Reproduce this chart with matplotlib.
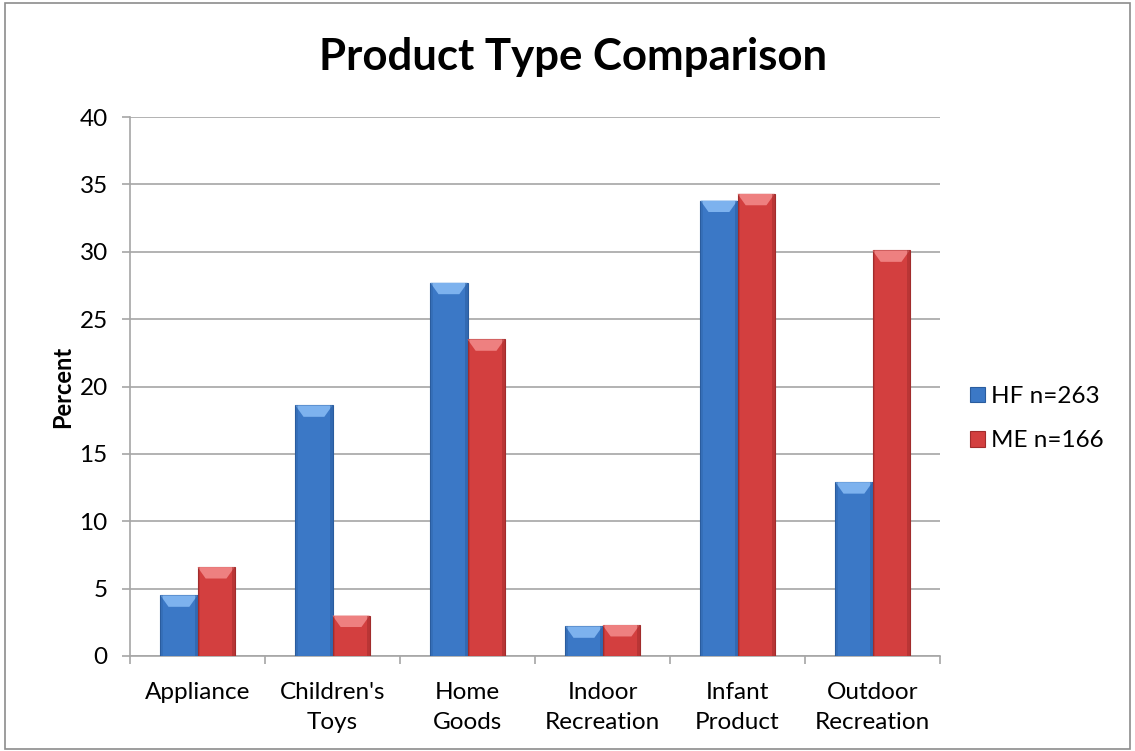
import numpy as np
import matplotlib
matplotlib.use("Agg")
from matplotlib import pyplot as plt
from matplotlib.patches import Polygon, Rectangle

categories = ["Appliance", "Children's\nToys", "Home\nGoods", "Indoor\nRecreation",
              "Infant\nProduct", "Outdoor\nRecreation"]
hf_values = [4.5, 18.6, 27.7, 2.2, 33.8, 12.9]
me_values = [6.6, 3.0, 23.5, 2.3, 34.3, 30.1]
series_labels = ["HF n=263", "ME n=166"]

plt.rcParams["font.family"] = ["Lato", "DejaVu Sans"]

fig = plt.figure(figsize=(11.35, 7.51), dpi=100)
ax = fig.add_axes([130 / 1135, 1 - 656 / 751, 810 / 1135, 539 / 751])

# outer chart border
fig.patches.append(Rectangle((0.004, 0.003), 0.992, 0.993, transform=fig.transFigure,
                             fill=False, edgecolor="#8c8c8c", linewidth=1.2))

x = np.arange(len(categories))
w = 0.275
colors = [("#3b78c6", "#7db2ee", "#2a5c9e"), ("#d33f3f", "#ee8080", "#a12c2c")]

for k, vals in enumerate([hf_values, me_values]):
    base, light, dark = colors[k]
    pos = x - w / 2 if k == 0 else x + w / 2
    bars = ax.bar(pos, vals, width=w, color=base, edgecolor=dark, linewidth=0.8,
                  label=series_labels[k], zorder=3)
    for b in bars:
        x0, y1 = b.get_x(), b.get_height()
        x1 = x0 + b.get_width()
        d = min(0.85, y1 / 2)
        inset = b.get_width() * 0.22
        ax.add_patch(Polygon([(x0, y1), (x1, y1), (x1 - inset, y1 - d), (x0 + inset, y1 - d)],
                             closed=True, facecolor=light, edgecolor="none", zorder=4))
        ax.add_patch(Rectangle((x0, 0), b.get_width() * 0.08, y1, facecolor=dark,
                               alpha=0.3, edgecolor="none", zorder=4))
        ax.add_patch(Rectangle((x1 - b.get_width() * 0.08, 0), b.get_width() * 0.08, y1,
                               facecolor=dark, alpha=0.5, edgecolor="none", zorder=4))

ax.set_xlim(-0.5, len(categories) - 0.5)
ax.set_ylim(0, 40)
ax.set_yticks(range(0, 41, 5))
ax.yaxis.grid(True, color="#a6a6a6", linewidth=1.2, zorder=0)
ax.set_axisbelow(True)

ax.set_xticks(x)
ax.set_xticklabels(categories, fontsize=17.5, linespacing=1.5)
ax.tick_params(axis="x", length=0, pad=19)
ax.set_xticks(np.arange(-0.5, len(categories)), minor=True)
ax.tick_params(axis="x", which="minor", length=6, color="#a6a6a6", width=1.2)
ax.tick_params(axis="y", labelsize=17.5, length=6, color="#a6a6a6", width=1.2, pad=10)

for s in ["top", "right"]:
    ax.spines[s].set_visible(False)
for s in ["left", "bottom"]:
    ax.spines[s].set_color("#a6a6a6")
    ax.spines[s].set_linewidth(1.2)

ax.set_ylabel("Percent", fontsize=17, fontweight="bold", labelpad=4)
fig.text(573 / 1135, 1 - 57 / 751, "Product Type Comparison", fontsize=31.5,
         fontweight="bold", ha="center", va="center")

ax.legend(loc="center left", bbox_to_anchor=(1.01, 0.44), frameon=False, fontsize=17.5,
          handlelength=0.6, handleheight=0.6, handletextpad=0.25, labelspacing=0.95)

fig.savefig("out.png", dpi=100)
